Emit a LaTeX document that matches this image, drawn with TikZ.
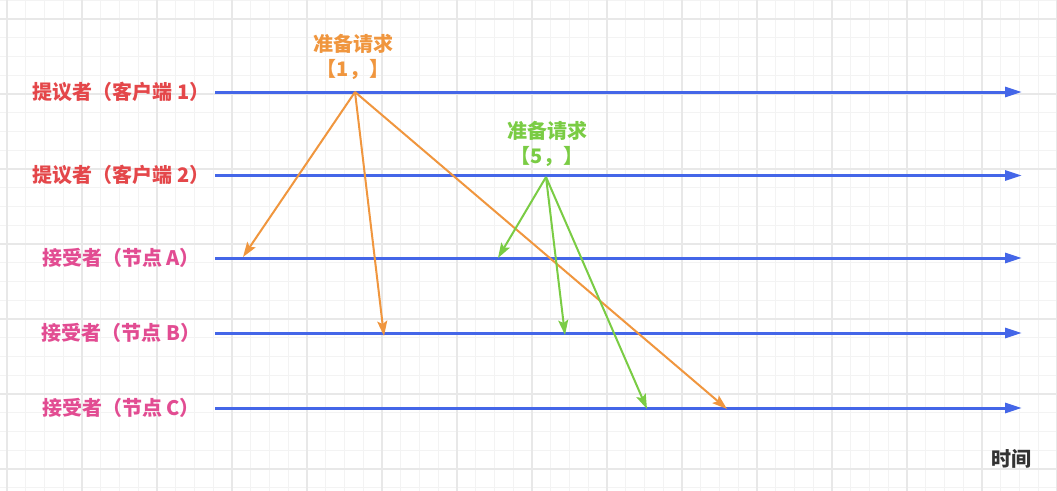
\documentclass[tikz,border=0pt]{standalone}
\usepackage{fontspec}
\newfontfamily\cjk{Noto Sans CJK SC}
\usetikzlibrary{arrows.meta}
\definecolor{lineblue}{HTML}{4466E8}
\definecolor{reqorange}{HTML}{F0963E}
\definecolor{reqgreen}{HTML}{7ACC44}
\definecolor{propred}{HTML}{E4474A}
\definecolor{accpink}{HTML}{E24C92}
\definecolor{timegray}{HTML}{333333}
\definecolor{gridminor}{HTML}{F3F3F3}
\definecolor{gridmajor}{HTML}{E8E8E8}
\begin{document}
\begin{tikzpicture}[x=1pt,y=-1pt]
          \tikzstyle{every node}=[font=\cjk\bfseries\fontsize{20}{25}\selectfont, inner sep=0pt];
          \tikzstyle{proposer}=[text=propred];
          \tikzstyle{acceptor}=[text=accpink];
          \tikzstyle{request}=[align=center];
          \tikzstyle{timeline}=[line width=3pt, lineblue, -{Triangle[length=17pt,width=10pt]}];
          \tikzstyle{prepare}=[line width=2pt, -{Stealth[length=15pt,width=10pt,inset=3pt]}];
          %background grid
          \useasboundingbox (0,0) rectangle (1057,490);
          \fill[white] (0,0) rectangle (1057,490);
          \begin{scope}
          \clip (0,0) rectangle (1057,490);
          \draw[gridminor, line width=1pt, step=18.75pt, shift={(7pt,-0.25pt)}] (-50,-50) grid (1150,560);
          \draw[gridmajor, line width=1.2pt, step=75pt, shift={(7pt,-19pt)}] (-100,-100) grid (1200,600);
          \end{scope}
          %\node (name) at (x,y) [style] {text};
          \node[proposer] (p1) at (121,92) {提议者（客户端 1）};
          \node[proposer] (p2) at (121,175) {提议者（客户端 2）};
          \node[acceptor] (aA) at (121,258) {接受者（节点 A）};
          \node[acceptor] (aB) at (121,333) {接受者（节点 B）};
          \node[acceptor] (aC) at (121,408) {接受者（节点 C）};
          \node[text=timegray] (time) at (1011,459) {时间};
          \node[request, text=reqorange] (req1) at (353,57) {准备请求\\【1，】};
          \node[request, text=reqgreen] (req5) at (547,143.5) {准备请求\\【5，】};
          %time lines
          \coordinate (s1) at (215,92);
          \coordinate (e1) at (1022,92);
          \coordinate (s2) at (215,175.5);
          \coordinate (e2) at (1022,175.5);
          \coordinate (sA) at (215,258);
          \coordinate (eA) at (1022,258);
          \coordinate (sB) at (215,333);
          \coordinate (eB) at (1022,333);
          \coordinate (sC) at (215,408);
          \coordinate (eC) at (1022,408);
          \draw[timeline] (s1)--(e1);
          \draw[timeline] (s2)--(e2);
          \draw[timeline] (sA)--(eA);
          \draw[timeline] (sB)--(eB);
          \draw[timeline] (sC)--(eC);
          %prepare messages
          \coordinate (o1) at (355,92);
          \coordinate (o1A) at (243,257);
          \coordinate (o1B) at (384,336);
          \coordinate (o1C) at (727,409);
          \coordinate (o5) at (546,177);
          \coordinate (o5A) at (498,258);
          \coordinate (o5B) at (565,335);
          \coordinate (o5C) at (647,409);
          \draw[prepare, reqorange] (o1)--(o1A);
          \draw[prepare, reqorange] (o1)--(o1B);
          \draw[prepare, reqorange] (o1)--(o1C);
          \draw[prepare, reqgreen] (o5)--(o5A);
          \draw[prepare, reqgreen] (o5)--(o5B);
          \draw[prepare, reqgreen] (o5)--(o5C);
\end{tikzpicture}
\end{document}
